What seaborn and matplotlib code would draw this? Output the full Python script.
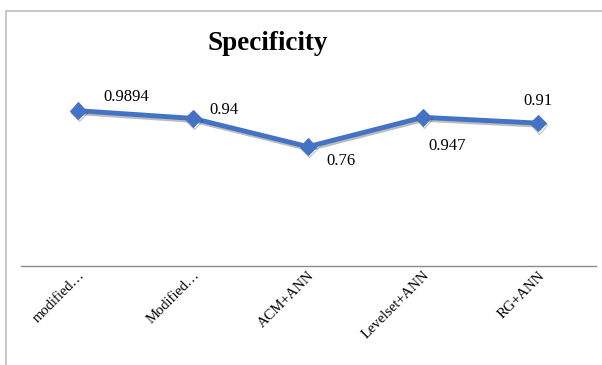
import matplotlib
matplotlib.use("Agg")
import matplotlib.pyplot as plt
import matplotlib.patheffects as pe
import seaborn as sns
import pandas as pd

methods = ["modified…", "Modified…", "ACM+ANN", "Levelset+ANN", "RG+ANN"]
specificity = [0.9894, 0.94, 0.76, 0.947, 0.91]
value_labels = ["0.9894", "0.94", "0.76", "0.947", "0.91"]

# label offsets in points (dx, dy) and horizontal alignment for each data label
label_offsets = [(18, 10), (12, 6), (13, -10.5), (4, -20.5), (0, 16)]
label_ha = ["left", "left", "left", "left", "center"]

sns.set_theme(style="white")
plt.rcParams["font.family"] = ["Liberation Serif", "DejaVu Serif"]

W, H = 602, 365
fig = plt.figure(figsize=(W / 100, H / 100), dpi=100)

# chart frame (left and top edges)
frame_color = "#bfbfbf"
fig.add_artist(plt.Line2D([6 / W, 6 / W], [0, 1 - 11 / H], color=frame_color, lw=1.2,
                          transform=fig.transFigure))
fig.add_artist(plt.Line2D([6 / W, 1], [1 - 11 / H, 1 - 11 / H], color=frame_color, lw=1.2,
                          transform=fig.transFigure))

ax = fig.add_axes([20.5 / W, 1 - 266 / H, 575 / W, 188.4 / H])

df = pd.DataFrame({"Method": methods, "Specificity": specificity})
line_color = "#4472C4"
sns.lineplot(data=df, x="Method", y="Specificity", sort=False, ax=ax,
             color=line_color, linewidth=3.5, marker="D", markersize=8.5,
             markeredgecolor=line_color,
             path_effects=[pe.SimpleLineShadow(offset=(0.8, -1.5), alpha=0.3, shadow_color="#222222"),
                           pe.Normal()])

ax.set_xlim(-0.5, len(methods) - 0.5)
ax.set_ylim(0, 1.2)
ax.set_xlabel("")
ax.set_ylabel("")
ax.set_yticks([])
for s in ["top", "right", "left"]:
    ax.spines[s].set_visible(False)
ax.spines["bottom"].set_color("#8c8c8c")
ax.spines["bottom"].set_linewidth(1.0)
ax.tick_params(axis="x", length=0, pad=2)
ax.set_xticks(range(len(methods)))
ax.set_xticklabels(methods, rotation=45, ha="right", rotation_mode="anchor",
                   fontsize=10.5, color="black")

for i, (v, txt) in enumerate(zip(specificity, value_labels)):
    dx, dy = label_offsets[i]
    ax.annotate(txt, (i, v), xytext=(dx, dy), textcoords="offset points",
                ha=label_ha[i], va="center", fontsize=12, color="black")

fig.text(268 / W, 1 - 43 / H, "Specificity", ha="center", va="center",
         fontsize=19.5, fontweight="bold", color="black")

fig.savefig("out.png", dpi=100, facecolor="white")
